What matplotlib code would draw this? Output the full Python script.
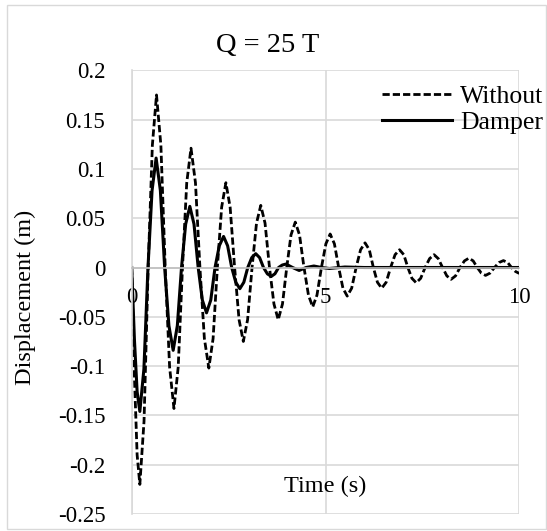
import numpy as np
import matplotlib
matplotlib.use('Agg')
import matplotlib.pyplot as plt
from matplotlib.patches import Rectangle

plt.rcParams['font.family'] = 'serif'
plt.rcParams['font.serif'] = ['Liberation Serif', 'Times New Roman', 'DejaVu Serif']

# values (time in s, displacement in m)
t_without = [0, 0.07, 0.14, 0.21, 0.318, 0.425, 0.533, 0.64, 0.753, 0.865, 0.978, 1.09,
             1.2, 1.31, 1.42, 1.53, 1.645, 1.76, 1.875, 1.99, 2.1, 2.21, 2.32, 2.43,
             2.54, 2.655, 2.77, 2.88, 2.99, 3.105, 3.22, 3.33, 3.44, 3.555, 3.67, 3.78,
             3.89, 4.0, 4.11, 4.22, 4.33, 4.445, 4.56, 4.67, 4.78, 4.895, 5.01, 5.12,
             5.23, 5.34, 5.45, 5.56, 5.675, 5.79, 5.905, 6.02, 6.13, 6.235, 6.34, 6.45,
             6.565, 6.68, 6.795, 6.91, 7.02, 7.125, 7.23, 7.34, 7.455, 7.57, 7.685, 7.8,
             7.91, 8.02, 8.13, 8.24, 8.355, 8.47, 8.585, 8.7, 8.81, 8.915, 9.02, 9.13,
             9.245, 9.36, 9.475, 9.59, 9.7, 9.8, 9.9, 10.0]
y_without = [0, -0.11, -0.19, -0.22, -0.156, 0, 0.124, 0.175, 0.124, 0, -0.101, -0.143,
             -0.101, 0, 0.086, 0.121, 0.086, 0, -0.072, -0.102, -0.072, 0, 0.061, 0.086,
             0.061, 0, -0.053, -0.075, -0.053, 0, 0.045, 0.063, 0.045, 0, -0.037, -0.053,
             -0.037, 0, 0.033, 0.046, 0.033, 0, -0.028, -0.040, -0.028, 0, 0.024, 0.034,
             0.024, 0, -0.021, -0.029, -0.021, 0, 0.018, 0.025, 0.018, 0, -0.015, -0.021,
             -0.015, 0, 0.013, 0.018, 0.013, 0, -0.011, -0.0155, -0.011, 0, 0.009, 0.013,
             0.009, 0, -0.0085, -0.012, -0.0085, 0, 0.0067, 0.0095, 0.0067, 0, -0.0057, -0.008,
             -0.0057, 0, 0.005, 0.007, 0.005, 0, -0.004, -0.006]

t_damper = [0, 0.07, 0.14, 0.21, 0.315, 0.42, 0.525, 0.63, 0.74, 0.85, 0.96, 1.07,
            1.1775, 1.285, 1.3925, 1.5, 1.6075, 1.715, 1.8225, 1.93, 2.04, 2.15, 2.26, 2.37,
            2.475, 2.58, 2.685, 2.79, 2.8925, 2.995, 3.0975, 3.2, 3.3, 3.4, 3.5, 3.6,
            3.695, 3.79, 3.885, 3.98, 4.15, 4.32, 4.5, 4.7, 4.9, 5.1, 5.5, 6.0, 10.0]
y_damper = [0, -0.073, -0.126, -0.146, -0.103, 0, 0.078, 0.111, 0.078, 0, -0.059, -0.084,
            -0.059, 0, 0.044, 0.062, 0.044, 0, -0.033, -0.046, -0.033, 0, 0.022, 0.0315,
            0.022, 0, -0.015, -0.0215, -0.015, 0, 0.010, 0.014, 0.010, 0, -0.0064, -0.009,
            -0.0064, 0, 0.0025, 0.0035, 0, -0.003, 0, 0.0015, 0, -0.001, 0.0005, 0, 0]

xticks = [0, 5, 10]
yticks = [0.2, 0.15, 0.1, 0.05, 0, -0.05, -0.1, -0.15, -0.2, -0.25]
ytick_labels = ['0.2', '0.15', '0.1', '0.05', '0', '-0.05', '-0.1', '-0.15', '-0.2', '-0.25']

W, H = 547, 531
fig = plt.figure(figsize=(W / 100, H / 100), dpi=100)
ax = fig.add_axes([131.7 / W, 1 - 514 / H, (519.3 - 131.7) / W, (514 - 70.3) / H])

grid_c = '#D9D9D9'
ax.plot(t_without, y_without, color='black', lw=2.0, dashes=(2.6, 1.1), label='Without')
ax.plot(t_damper, y_damper, color='black', lw=2.2, label='Damper')

ax.set_xlim(0, 10)
ax.set_ylim(-0.25, 0.2)
ax.set_xticks(xticks)
ax.set_yticks(yticks)
ax.set_yticklabels(ytick_labels)
ax.grid(True, color=grid_c, lw=1.2, zorder=0)
ax.set_axisbelow(True)
for s in ['top', 'right']:
    ax.spines[s].set_visible(False)
ax.spines['left'].set_color(grid_c)
ax.spines['left'].set_linewidth(1.2)
ax.spines['bottom'].set_position(('data', 0))
ax.spines['bottom'].set_color('#BFBFBF')
ax.spines['bottom'].set_linewidth(1.2)
ax.tick_params(axis='both', length=0, labelsize=16.5)
ax.tick_params(axis='y', pad=19)
ax.tick_params(axis='x', pad=14)

ax.text(0.5, 0.062, 'Time (s)', transform=ax.transAxes, ha='center', va='center', fontsize=17.5)
fig.text(25 / W, 1 - 297 / H, 'Displacement (m)', rotation=90, ha='center', va='center', fontsize=17.5)
fig.text(268 / W, 1 - 46 / H, 'Q = 25 T', ha='center', va='center', fontsize=20.5)

ax.legend(loc='upper left', bbox_to_anchor=(382 / W, 1 - 85 / H), bbox_transform=fig.transFigure,
          frameon=False, fontsize=18.5, handlelength=2.72, handletextpad=0.31, labelspacing=0.12,
          borderaxespad=0, borderpad=0)

fig.patches.append(Rectangle((7 / W, 1 - 529 / H), 539 / W, 524 / H, transform=fig.transFigure,
                             fill=False, edgecolor=grid_c, lw=1.0))

fig.savefig('out.png', dpi=100)
